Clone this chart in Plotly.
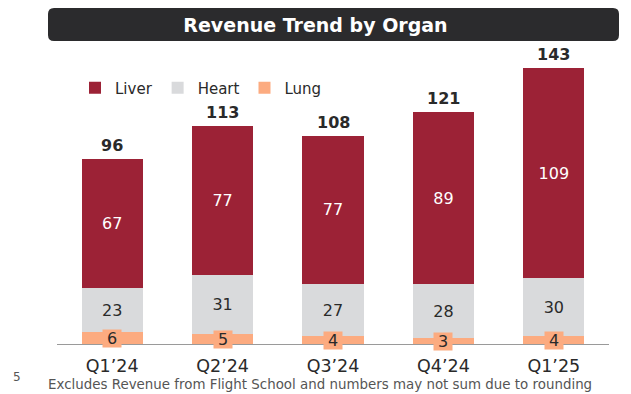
import plotly.graph_objects as go

quarters = ["Q1\u201924", "Q2\u201924", "Q3\u201924", "Q4\u201924", "Q1\u201925"]
liver = [67, 77, 77, 89, 109]
heart = [23, 31, 27, 28, 30]
lung = [6, 5, 4, 3, 4]
totals = [96, 113, 108, 121, 143]

C_LIVER = "#9C2236"
C_HEART = "#D9DADC"
C_LUNG = "#FCAB80"
C_TEXT = "#2A2A2A"

W, H = 631, 394
ML, MR, MT, MB = 57, 22, 60, 50
PW, PH = W - ML - MR, H - MT - MB

def px(x):
    return (x - ML) / PW

def py(y):
    return (H - MB - y) / PH

FONT = "DejaVu Sans"

fig = go.Figure()
fig.add_trace(go.Bar(
    name="Lung", x=quarters, y=lung, marker=dict(color=C_LUNG, line=dict(width=0)),
    hoverinfo="skip", legendrank=3))
fig.add_trace(go.Bar(
    name="Heart", x=quarters, y=heart, marker=dict(color=C_HEART, line=dict(width=0)),
    text=heart, textposition="inside", insidetextanchor="middle",
    textfont=dict(size=16, color=C_TEXT, family=FONT), legendrank=2))
fig.add_trace(go.Bar(
    name="Liver", x=quarters, y=liver, marker=dict(color=C_LIVER, line=dict(width=0)),
    text=liver, textposition="inside", insidetextanchor="middle",
    textfont=dict(size=16, color="white", family=FONT), legendrank=1))

annotations = []
for q, t, l, h, g in zip(quarters, totals, liver, heart, lung):
    annotations.append(dict(x=q, y=l + h + g, text=f"<b>{t}</b>", showarrow=False,
                            yanchor="bottom", yshift=2,
                            font=dict(family=FONT, size=16, color=C_TEXT)))
    annotations.append(dict(x=q, y=g / 2, text=str(g), showarrow=False,
                            yanchor="middle", bgcolor=C_LUNG, borderpad=0,
                            width=18, height=17, align="center", valign="middle",
                            font=dict(family=FONT, size=16, color=C_TEXT)))

annotations.append(dict(xref="paper", yref="paper", x=px(320), y=py(384),
                        text="Excludes Revenue from Flight School and numbers may not sum due to rounding",
                        showarrow=False, xanchor="center", yanchor="middle",
                        font=dict(family=FONT, size=13.4, color="#555555")))
annotations.append(dict(xref="paper", yref="paper", x=px(17), y=py(377),
                        text="5", showarrow=False, xanchor="center", yanchor="middle",
                        font=dict(family=FONT, size=12, color="#555555")))

# rounded title bar
x0, x1, y0, y1, r = 48, 619, 8, 41, 6
path = (f"M {px(x0+r)},{py(y0)} L {px(x1-r)},{py(y0)} Q {px(x1)},{py(y0)} {px(x1)},{py(y0+r)} "
        f"L {px(x1)},{py(y1-r)} Q {px(x1)},{py(y1)} {px(x1-r)},{py(y1)} "
        f"L {px(x0+r)},{py(y1)} Q {px(x0)},{py(y1)} {px(x0)},{py(y1-r)} "
        f"L {px(x0)},{py(y0+r)} Q {px(x0)},{py(y0)} {px(x0+r)},{py(y0)} Z")

fig.update_layout(
    width=W, height=H,
    margin=dict(l=ML, r=MR, t=MT, b=MB),
    paper_bgcolor="white", plot_bgcolor="white",
    barmode="stack", bargap=0.445,
    showlegend=True,
    legend=dict(orientation="h", x=px(75), y=py(88), xanchor="left", yanchor="middle",
                font=dict(family=FONT, size=15, color=C_TEXT), traceorder="normal",
                bgcolor="rgba(0,0,0,0)"),
    title=dict(text="<b>Revenue Trend by Organ</b>", x=0.5, xref="container",
               y=1 - 25 / H, yref="container", xanchor="center", yanchor="middle",
               font=dict(family=FONT, size=19, color="white")),
    shapes=[dict(type="path", path=path, xref="paper", yref="paper",
                 fillcolor="#2B2B2D", line=dict(width=0), layer="below")],
    annotations=annotations,
    xaxis=dict(showline=True, linecolor="#9A9A9A", linewidth=1, ticks="",
               ticklabelstandoff=6,
               tickfont=dict(family=FONT, size=17.5, color=C_TEXT), showgrid=False),
    yaxis=dict(range=[0, PH / 1.93], visible=False, showgrid=False, zeroline=False),
)

fig.write_html("out.html", config={"displayModeBar": False},
               post_script="document.body.style.margin='0';document.body.style.overflow='hidden';")
